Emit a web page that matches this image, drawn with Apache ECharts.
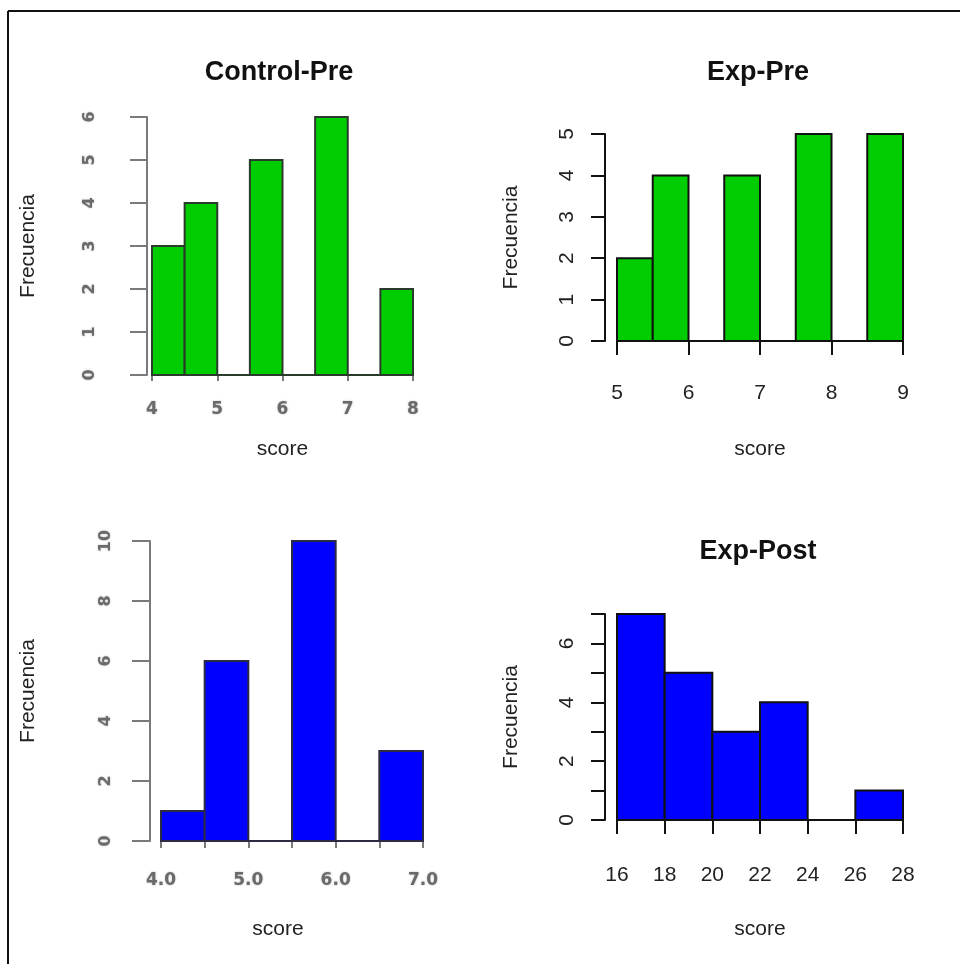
<!DOCTYPE html>
<html>
<head>
<meta charset="utf-8">
<title>Histogramas de score</title>
<script src="https://cdn.jsdelivr.net/npm/echarts@6/dist/echarts.min.js"></script>
<style>
  html, body { margin: 0; padding: 0; background: #ffffff; }
  #chart { width: 960px; height: 964px; }
</style>
</head>
<body>
<div id="chart"></div>
<script>
// Bin edges and counts for each histogram
const ctrlPreEdges = [4, 4.5, 5, 5.5, 6, 6.5, 7, 7.5, 8];
const ctrlPreCounts = [3, 4, 0, 5, 0, 6, 0, 2];

const expPreEdges = [5, 5.5, 6, 6.5, 7, 7.5, 8, 8.5, 9];
const expPreCounts = [2, 4, 0, 4, 0, 5, 0, 5];

const ctrlPostEdges = [4, 4.5, 5, 5.5, 6, 6.5, 7];
const ctrlPostCounts = [1, 6, 0, 10, 0, 3];

const expPostEdges = [16, 18, 20, 22, 24, 26, 28];
const expPostCounts = [7, 5, 3, 4, 0, 1];

const panelTitles = ['Control-Pre', 'Exp-Pre', '', 'Exp-Post'];
const xName = 'score';
const yName = 'Frecuencia';

const GREEN = '#00cd00';
const BLUE = '#0000ff';
const SANS = '"Liberation Sans", Arial, sans-serif';
const WIDE = '"DejaVu Sans", sans-serif';

function binsToData(edges, counts) {
  return counts.map((c, i) => [edges[i], edges[i + 1], c]);
}

function histSeries(idx, edges, counts, fill, stroke, lw) {
  return {
    type: 'custom',
    xAxisIndex: idx,
    yAxisIndex: idx,
    data: binsToData(edges, counts),
    encode: { x: [0, 1], y: 2 },
    renderItem: function (params, api) {
      const p0 = api.coord([api.value(0), 0]);
      const p1 = api.coord([api.value(1), api.value(2)]);
      return {
        type: 'rect',
        shape: { x: p0[0], y: p1[1], width: p1[0] - p0[0], height: p0[1] - p1[1] },
        style: { fill: fill, stroke: stroke, lineWidth: lw }
      };
    }
  };
}

// Soft grey styling for the two left-hand panels
const softLabel = {
  color: '#6a6a6a',
  fontFamily: WIDE,
  fontWeight: 'bold',
  textShadowColor: 'rgba(90,90,90,0.45)',
  textShadowBlur: 2
};
const crispLabel = { color: '#222', fontFamily: SANS, fontSize: 21 };

const grids = [
  { left: 152, top: 117, width: 261, height: 258 },
  { left: 617, top: 134, width: 286, height: 207 },
  { left: 161, top: 541, width: 262, height: 300 },
  { left: 617, top: 614, width: 286, height: 206 }
];

const xAxes = [
  {
    gridIndex: 0, type: 'value', min: 4, max: 8, interval: 1, offset: 10,
    name: xName, nameLocation: 'middle', nameGap: 54,
    nameTextStyle: { fontFamily: SANS, fontSize: 21, color: '#222' },
    axisLine: { lineStyle: { color: '#7a7a7a', width: 2 } },
    axisTick: { length: 6, lineStyle: { color: '#7a7a7a', width: 2 } },
    axisLabel: Object.assign({ fontSize: 17, margin: 16 }, softLabel),
    splitLine: { show: false }
  },
  {
    gridIndex: 1, type: 'value', min: 5, max: 9, interval: 1, offset: 8,
    name: xName, nameLocation: 'middle', nameGap: 90,
    nameTextStyle: { fontFamily: SANS, fontSize: 21, color: '#222' },
    axisLine: { lineStyle: { color: '#111', width: 2 } },
    axisTick: { length: 14, lineStyle: { color: '#111', width: 2 } },
    axisLabel: Object.assign({ margin: 34 }, crispLabel),
    splitLine: { show: false }
  },
  {
    gridIndex: 2, type: 'value', min: 4, max: 7, interval: 0.5, offset: 13,
    name: xName, nameLocation: 'middle', nameGap: 65,
    nameTextStyle: { fontFamily: SANS, fontSize: 21, color: '#222', padding: [0, 28, 0, 0] },
    axisLine: { lineStyle: { color: '#7a7a7a', width: 2 } },
    axisTick: { length: 7, lineStyle: { color: '#7a7a7a', width: 2 } },
    axisLabel: Object.assign({
      fontSize: 17, margin: 18,
      formatter: v => (Math.abs(v - Math.round(v)) < 1e-9 ? v.toFixed(1) : '')
    }, softLabel),
    splitLine: { show: false }
  },
  {
    gridIndex: 3, type: 'value', min: 16, max: 28, interval: 2, offset: 8,
    name: xName, nameLocation: 'middle', nameGap: 91,
    nameTextStyle: { fontFamily: SANS, fontSize: 21, color: '#222' },
    axisLine: { lineStyle: { color: '#111', width: 2 } },
    axisTick: { length: 14, lineStyle: { color: '#111', width: 2 } },
    axisLabel: Object.assign({ margin: 37 }, crispLabel),
    splitLine: { show: false }
  }
];

const yAxes = [
  {
    gridIndex: 0, type: 'value', min: 0, max: 6, interval: 1, offset: 5,
    name: yName, nameLocation: 'middle', nameGap: 108,
    nameTextStyle: { fontFamily: SANS, fontSize: 21, color: '#222' },
    axisLine: { show: true, lineStyle: { color: '#7a7a7a', width: 2 } },
    axisTick: { show: true, length: 17, lineStyle: { color: '#7a7a7a', width: 2 } },
    axisLabel: Object.assign({ fontSize: 16, rotate: 90, margin: 49 }, softLabel),
    splitLine: { show: false }
  },
  {
    gridIndex: 1, type: 'value', min: 0, max: 5, interval: 1, offset: 12,
    name: yName, nameLocation: 'middle', nameGap: 83,
    nameTextStyle: { fontFamily: SANS, fontSize: 21, color: '#222' },
    axisLine: { show: true, lineStyle: { color: '#111', width: 2 } },
    axisTick: { show: true, length: 14, lineStyle: { color: '#111', width: 2 } },
    axisLabel: Object.assign({ rotate: 90, margin: 27 }, crispLabel),
    splitLine: { show: false }
  },
  {
    gridIndex: 2, type: 'value', min: 0, max: 10, interval: 2, offset: 11,
    name: yName, nameLocation: 'middle', nameGap: 111,
    nameTextStyle: { fontFamily: SANS, fontSize: 21, color: '#222' },
    axisLine: { show: true, lineStyle: { color: '#7a7a7a', width: 2 } },
    axisTick: { show: true, length: 18, lineStyle: { color: '#7a7a7a', width: 2 } },
    axisLabel: Object.assign({ fontSize: 16, rotate: 90, margin: 36 }, softLabel),
    splitLine: { show: false }
  },
  {
    gridIndex: 3, type: 'value', min: 0, max: 7, interval: 1, offset: 12,
    name: yName, nameLocation: 'middle', nameGap: 83,
    nameTextStyle: { fontFamily: SANS, fontSize: 21, color: '#222' },
    axisLine: { show: true, lineStyle: { color: '#111', width: 2 } },
    axisTick: { show: true, length: 14, lineStyle: { color: '#111', width: 2 } },
    axisLabel: Object.assign({
      rotate: 90, margin: 27,
      formatter: v => (v % 2 === 0 ? String(v) : '')
    }, crispLabel),
    splitLine: { show: false }
  }
];

const titleCenters = [[279, 59], [758, 59], [279, 538], [758, 538]];
const titles = panelTitles
  .map((t, i) => ({
    text: t, left: titleCenters[i][0], top: titleCenters[i][1], textAlign: 'center', padding: 0,
    textStyle: { fontFamily: SANS, fontSize: 27, fontWeight: 'bold', color: '#111' }
  }))
  .filter(t => t.text);

const chart = echarts.init(document.getElementById('chart'), null, { renderer: 'canvas' });
chart.setOption({
  backgroundColor: '#ffffff',
  animation: false,
  title: titles,
  grid: grids,
  xAxis: xAxes,
  yAxis: yAxes,
  series: [
    histSeries(0, ctrlPreEdges, ctrlPreCounts, GREEN, '#2b3b2b', 2),
    histSeries(1, expPreEdges, expPreCounts, GREEN, '#111', 2),
    histSeries(2, ctrlPostEdges, ctrlPostCounts, BLUE, '#2b2b44', 2),
    histSeries(3, expPostEdges, expPostCounts, BLUE, '#111', 2)
  ],
  graphic: [
    // frame around the figure
    { type: 'line', shape: { x1: 8, y1: 11, x2: 960, y2: 11 }, style: { stroke: '#111', lineWidth: 2 } },
    { type: 'line', shape: { x1: 8, y1: 11, x2: 8, y2: 964 }, style: { stroke: '#111', lineWidth: 2 } }
  ]
});
</script>
</body>
</html>
